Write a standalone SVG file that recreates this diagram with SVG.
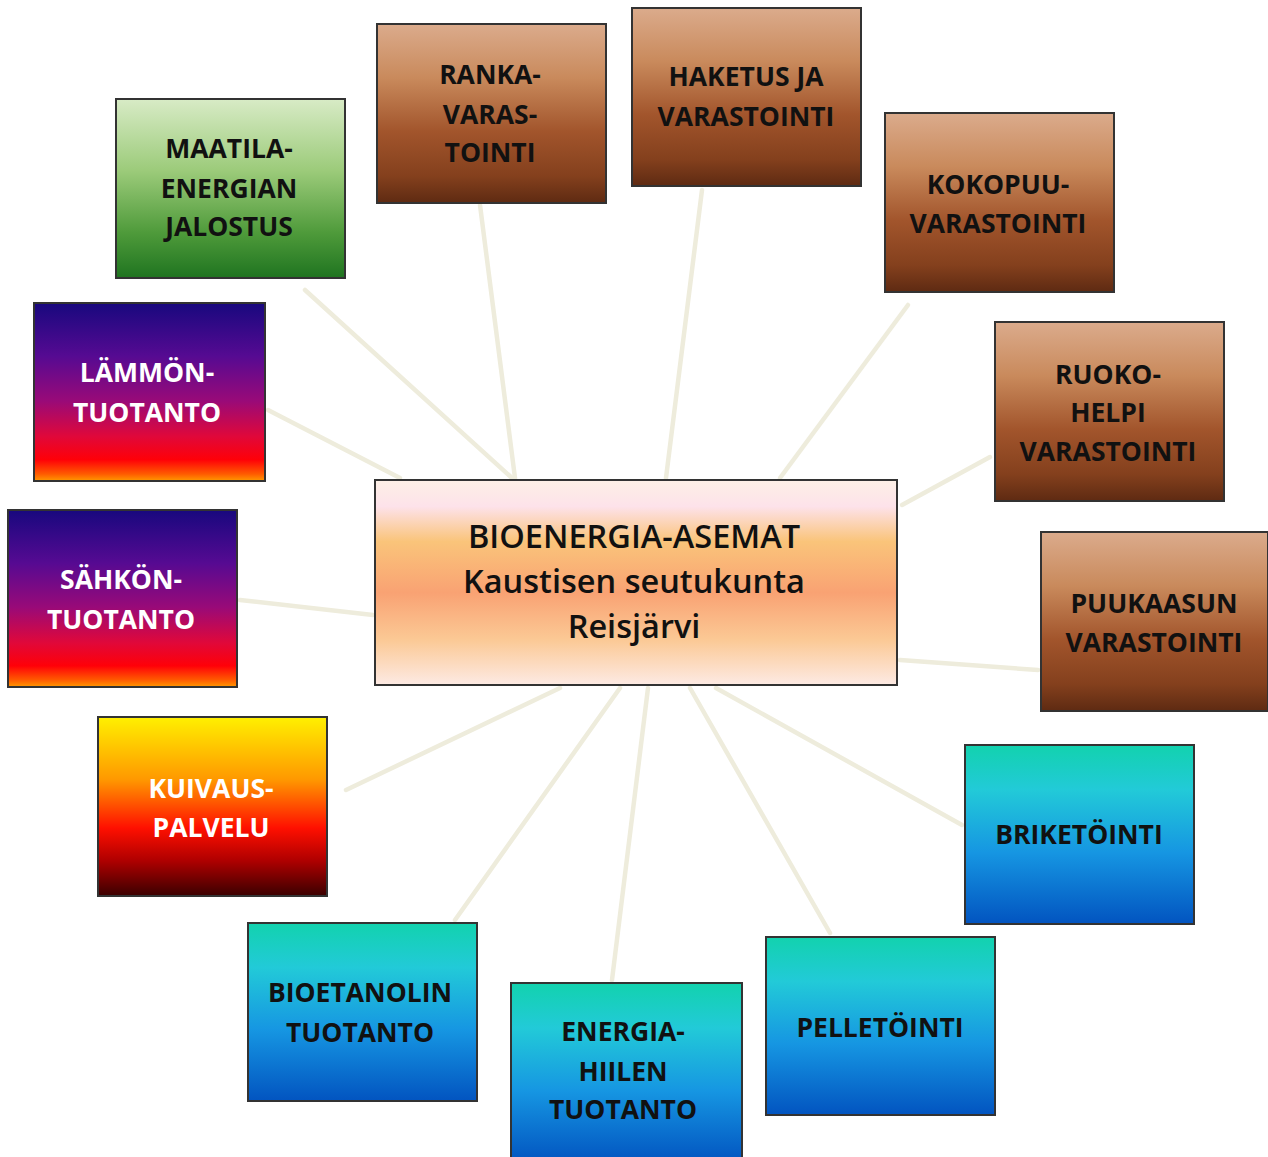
<svg xmlns="http://www.w3.org/2000/svg" width="1268" height="1157" viewBox="0 0 1268 1157">
<defs>
<linearGradient id="gBrown" x1="0" y1="0" x2="0" y2="1">
<stop offset="0" stop-color="#dbab8c"/><stop offset="0.3" stop-color="#c98a5c"/><stop offset="0.6" stop-color="#a2552c"/><stop offset="0.85" stop-color="#84401d"/><stop offset="1" stop-color="#5e2a12"/>
</linearGradient>
<linearGradient id="gGreen" x1="0" y1="0" x2="0" y2="1">
<stop offset="0" stop-color="#d8ebc6"/><stop offset="0.4" stop-color="#9ccb7a"/><stop offset="0.75" stop-color="#4e9a3a"/><stop offset="1" stop-color="#1f7420"/>
</linearGradient>
<linearGradient id="gHeat" x1="0" y1="0" x2="0" y2="1">
<stop offset="0" stop-color="#18087e"/><stop offset="0.3" stop-color="#560a92"/><stop offset="0.55" stop-color="#990a78"/><stop offset="0.75" stop-color="#e0083a"/><stop offset="0.88" stop-color="#ff0008"/><stop offset="0.96" stop-color="#ff5a00"/><stop offset="1" stop-color="#ff9a00"/>
</linearGradient>
<linearGradient id="gDry" x1="0" y1="0" x2="0" y2="1">
<stop offset="0" stop-color="#fff000"/><stop offset="0.35" stop-color="#ff9800"/><stop offset="0.62" stop-color="#ff1000"/><stop offset="0.8" stop-color="#b00000"/><stop offset="1" stop-color="#3a0000"/>
</linearGradient>
<linearGradient id="gBlue" x1="0" y1="0" x2="0" y2="1">
<stop offset="0" stop-color="#12d2ae"/><stop offset="0.25" stop-color="#22cad8"/><stop offset="0.6" stop-color="#1696e2"/><stop offset="1" stop-color="#0254c0"/>
</linearGradient>
<linearGradient id="gCenter" x1="0" y1="0" x2="0" y2="1">
<stop offset="0" stop-color="#fdf0e6"/><stop offset="0.13" stop-color="#fde2ea"/><stop offset="0.3" stop-color="#fac47a"/><stop offset="0.55" stop-color="#f9a273"/><stop offset="0.78" stop-color="#fbc995"/><stop offset="1" stop-color="#fdeae4"/>
</linearGradient>
</defs>
<style>
.box{stroke:#333;stroke-width:2}
.t{font-family:"Open Sans","Liberation Sans",sans-serif;font-weight:bold;font-size:26.5px;text-anchor:middle;fill:#111}
.w{fill:#fff}
.c{font-family:"Open Sans","Liberation Sans",sans-serif;font-size:32.5px;text-anchor:middle;fill:#111;font-weight:600}
.ln{stroke:#eeecdc;stroke-width:4.5;stroke-linecap:round;fill:none}
</style>
<rect width="1268" height="1157" fill="#fff"/>
<g id="connectors">
<line class="ln" x1="480" y1="205" x2="515" y2="478"/>
<line class="ln" x1="702" y1="190" x2="666" y2="478"/>
<line class="ln" x1="908" y1="305" x2="780" y2="478"/>
<line class="ln" x1="990" y1="457" x2="902" y2="505"/>
<line class="ln" x1="1038" y1="670" x2="900" y2="660"/>
<line class="ln" x1="962" y1="825" x2="716" y2="688"/>
<line class="ln" x1="830" y1="933" x2="690" y2="688"/>
<line class="ln" x1="612" y1="980" x2="648" y2="688"/>
<line class="ln" x1="455" y1="920" x2="620" y2="688"/>
<line class="ln" x1="346" y1="790" x2="560" y2="688"/>
<line class="ln" x1="240" y1="600" x2="373" y2="615"/>
<line class="ln" x1="268" y1="410" x2="400" y2="478"/>
<line class="ln" x1="305" y1="290" x2="512" y2="478"/>
</g>
<g id="center">
<rect class="box" x="375" y="480" width="522" height="205" fill="url(#gCenter)"/>
<text class="c" x="634" y="548">BIOENERGIA-ASEMAT</text>
<text class="c" x="634" y="593">Kaustisen seutukunta</text>
<text class="c" x="634" y="638">Reisjärvi</text>
</g>
<g id="ranka">
<rect class="box" x="377" y="24" width="229" height="179" fill="url(#gBrown)"/>
<text class="t" x="490" y="84">RANKA-</text><text class="t" x="490" y="124">VARAS-</text><text class="t" x="490" y="162">TOINTI</text>
</g>
<g id="haketus">
<rect class="box" x="632" y="8" width="229" height="178" fill="url(#gBrown)"/>
<text class="t" x="746" y="86">HAKETUS JA</text><text class="t" x="746" y="126">VARASTOINTI</text>
</g>
<g id="kokopuu">
<rect class="box" x="885" y="113" width="229" height="179" fill="url(#gBrown)"/>
<text class="t" x="998" y="194">KOKOPUU-</text><text class="t" x="998" y="233">VARASTOINTI</text>
</g>
<g id="ruokohelpi">
<rect class="box" x="995" y="322" width="229" height="179" fill="url(#gBrown)"/>
<text class="t" x="1108" y="384">RUOKO-</text><text class="t" x="1108" y="422">HELPI</text><text class="t" x="1108" y="461">VARASTOINTI</text>
</g>
<g id="puukaasu">
<rect class="box" x="1041" y="532" width="227" height="179" fill="url(#gBrown)"/>
<text class="t" x="1154" y="613">PUUKAASUN</text><text class="t" x="1154" y="652">VARASTOINTI</text>
</g>
<g id="briketointi">
<rect class="box" x="965" y="745" width="229" height="179" fill="url(#gBlue)"/>
<text class="t" x="1079" y="844">BRIKETÖINTI</text>
</g>
<g id="pelletointi">
<rect class="box" x="766" y="937" width="229" height="178" fill="url(#gBlue)"/>
<text class="t" x="880" y="1037">PELLETÖINTI</text>
</g>
<g id="energiahiili">
<rect class="box" x="511" y="983" width="231" height="180" fill="url(#gBlue)"/>
<text class="t" x="623" y="1041">ENERGIA-</text><text class="t" x="623" y="1081">HIILEN</text><text class="t" x="623" y="1119">TUOTANTO</text>
</g>
<g id="bioetanoli">
<rect class="box" x="248" y="923" width="229" height="178" fill="url(#gBlue)"/>
<text class="t" x="360" y="1002">BIOETANOLIN</text><text class="t" x="360" y="1042">TUOTANTO</text>
</g>
<g id="kuivaus">
<rect class="box" x="98" y="717" width="229" height="179" fill="url(#gDry)"/>
<text class="t w" x="211" y="798">KUIVAUS-</text><text class="t w" x="211" y="837">PALVELU</text>
</g>
<g id="sahko">
<rect class="box" x="8" y="510" width="229" height="177" fill="url(#gHeat)"/>
<text class="t w" x="121" y="589">SÄHKÖN-</text><text class="t w" x="121" y="629">TUOTANTO</text>
</g>
<g id="lammon">
<rect class="box" x="34" y="303" width="231" height="178" fill="url(#gHeat)"/>
<text class="t w" x="147" y="382">LÄMMÖN-</text><text class="t w" x="147" y="422">TUOTANTO</text>
</g>
<g id="maatila">
<rect class="box" x="116" y="99" width="229" height="179" fill="url(#gGreen)"/>
<text class="t" x="229" y="158">MAATILA-</text><text class="t" x="229" y="198">ENERGIAN</text><text class="t" x="229" y="236">JALOSTUS</text>
</g>
</svg>
